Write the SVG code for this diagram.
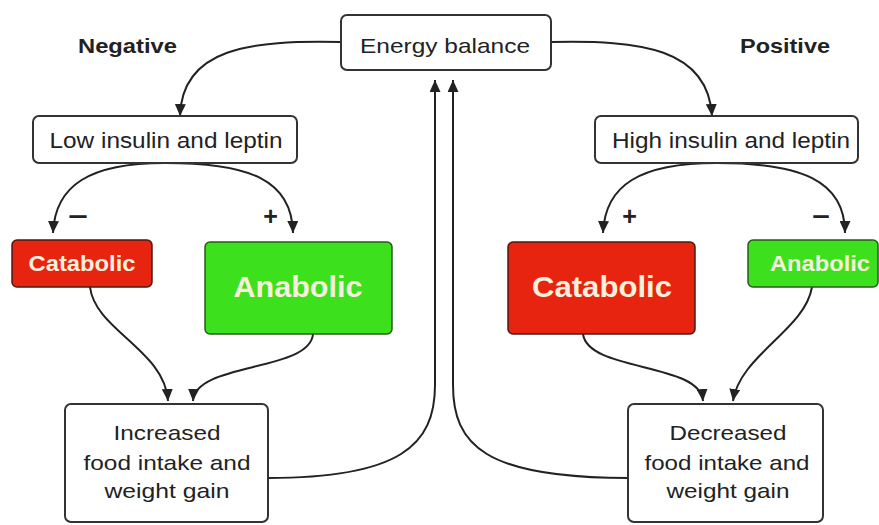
<svg xmlns="http://www.w3.org/2000/svg" width="879" height="525" viewBox="0 0 879 525">
<style>
  .box { fill: #ffffff; stroke: #333333; stroke-width: 2; }
  .cat { fill: #e6240f; stroke: #4a1a10; stroke-width: 1.5; }
  .ana { fill: #3de01c; stroke: #2a5a1a; stroke-width: 1.5; }
  .t { font-family: "Liberation Sans", Arial, sans-serif; fill: #222222; text-anchor: middle; }
  .lbl { font-family: "Liberation Sans", Arial, sans-serif; fill: #222222; font-weight: bold; text-anchor: middle; }
  .w { font-family: "Liberation Sans", Arial, sans-serif; fill: #f8f0dc; font-weight: bold; text-anchor: middle; }
  .c { fill: none; stroke: #222222; stroke-width: 2; marker-end: url(#ah); }
  .sign { font-family: "Liberation Sans", Arial, sans-serif; fill: #222222; font-weight: bold; text-anchor: middle; font-size: 25px; }
</style>
<defs>
  <marker id="ah" markerUnits="userSpaceOnUse" markerWidth="12" markerHeight="11" refX="12" refY="5.5" orient="auto">
    <path d="M0,0 L12,5.5 L0,11 z" fill="#222222"/>
  </marker>
</defs>
<rect width="879" height="525" fill="#ffffff"/>

<g id="connectors">
  <path class="c" d="M341,42 C 250,40 182,48 180,116"/>
  <path class="c" d="M551,42 C 640,40 708,48 712,116"/>
  <path class="c" d="M165,163 C 90,163 55,185 53,233"/>
  <path class="c" d="M165,163 C 250,163 292,180 293,233"/>
  <path class="c" d="M717,163 C 640,163 605,185 603,233"/>
  <path class="c" d="M717,163 C 800,163 845,180 845,233"/>
  <path class="c" d="M90,287 C 95,330 165,350 168,401"/>
  <path class="c" d="M313,334 C 310,372 195,362 193,401"/>
  <path class="c" d="M583,334 C 588,372 700,362 703,401"/>
  <path class="c" d="M812,287 C 805,330 740,355 733,401"/>
  <path class="c" d="M268,478 C 400,478 435,445 435,385 L435,80"/>
  <path class="c" d="M628,478 C 485,478 453,445 453,385 L453,80"/>
</g>

<text class="lbl" x="127.5" y="53" font-size="21" textLength="99" lengthAdjust="spacingAndGlyphs">Negative</text>
<text class="lbl" x="785" y="53" font-size="21" textLength="90" lengthAdjust="spacingAndGlyphs">Positive</text>

<g id="energy-balance">
  <rect class="box" x="341" y="15" width="210" height="55" rx="6"/>
  <text class="t" x="445" y="53" font-size="21" textLength="170" lengthAdjust="spacingAndGlyphs">Energy balance</text>
</g>
<g id="low-insulin">
  <rect class="box" x="33" y="116" width="264" height="47" rx="6"/>
  <text class="t" x="166" y="148" font-size="22" textLength="233" lengthAdjust="spacingAndGlyphs">Low insulin and leptin</text>
</g>
<g id="high-insulin">
  <rect class="box" x="595" y="116" width="263" height="47" rx="6"/>
  <text class="t" x="731" y="148" font-size="22" textLength="238" lengthAdjust="spacingAndGlyphs">High insulin and leptin</text>
</g>

<text class="sign" x="78" y="225" textLength="20" lengthAdjust="spacingAndGlyphs">−</text>
<text class="sign" x="270.5" y="225">+</text>
<text class="sign" x="629.5" y="225">+</text>
<text class="sign" x="821" y="225" textLength="18" lengthAdjust="spacingAndGlyphs">−</text>

<g id="catabolic-left">
  <rect class="cat" x="12" y="240" width="140" height="47" rx="5"/>
  <text class="w" x="82" y="271" font-size="22" textLength="107" lengthAdjust="spacingAndGlyphs">Catabolic</text>
</g>
<g id="anabolic-left">
  <rect class="ana" x="205" y="242" width="187" height="92" rx="5"/>
  <text class="w" x="298" y="297" font-size="30" textLength="129" lengthAdjust="spacingAndGlyphs">Anabolic</text>
</g>
<g id="catabolic-right">
  <rect class="cat" x="508" y="242" width="187" height="92" rx="5"/>
  <text class="w" x="602" y="297" font-size="30" textLength="140" lengthAdjust="spacingAndGlyphs">Catabolic</text>
</g>
<g id="anabolic-right">
  <rect class="ana" x="748" y="240" width="130" height="47" rx="5"/>
  <text class="w" x="820" y="271" font-size="22" textLength="100" lengthAdjust="spacingAndGlyphs">Anabolic</text>
</g>

<g id="increased">
  <rect class="box" x="65" y="404" width="203" height="118" rx="6"/>
  <text class="t" x="167" y="440" font-size="21" textLength="107" lengthAdjust="spacingAndGlyphs">Increased</text>
  <text class="t" x="167" y="470" font-size="21" textLength="167" lengthAdjust="spacingAndGlyphs">food intake and</text>
  <text class="t" x="167" y="498" font-size="21" textLength="125" lengthAdjust="spacingAndGlyphs">weight gain</text>
</g>
<g id="decreased">
  <rect class="box" x="628" y="404" width="195" height="118" rx="6"/>
  <text class="t" x="728" y="440" font-size="21" textLength="117" lengthAdjust="spacingAndGlyphs">Decreased</text>
  <text class="t" x="727" y="470" font-size="21" textLength="165" lengthAdjust="spacingAndGlyphs">food intake and</text>
  <text class="t" x="728" y="498" font-size="21" textLength="123" lengthAdjust="spacingAndGlyphs">weight gain</text>
</g>
</svg>
